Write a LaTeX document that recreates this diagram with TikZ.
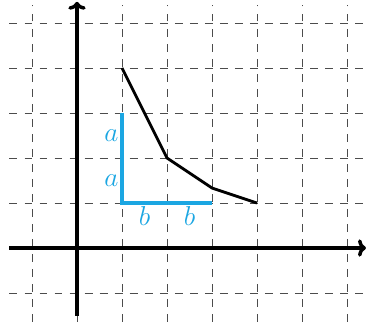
\documentclass[tikz,border=0pt]{standalone}
\usetikzlibrary{arrows.meta}
\definecolor{myblue}{RGB}{27,166,226}
\begin{document}
\begin{tikzpicture}[
  gridline/.style={black!70, line width=0.6pt, dash pattern=on 5pt off 4.5pt},
  axis/.style={line width=2.2pt, -{To[length=5pt,width=11pt]}},
  curve/.style={line width=1.8pt},
  leg/.style={myblue, line width=2pt},
  lab/.style={myblue, font=\fontsize{17}{20}\selectfont}
]
\useasboundingbox (-1.711,-1.644) rectangle (6.444,5.511);
\foreach \x in {-1,0,...,6} \draw[gridline] (\x,-1.644) -- (\x,5.4);
\foreach \y in {-1,0,...,5} \draw[gridline] (-1.5,\y) -- (6.444,\y);
\coordinate (xs) at (-1.5,0);
\coordinate (xe) at (6.42,0);
\coordinate (ys) at (0,-1.5);
\coordinate (ye) at (0,5.47);
\draw[axis] (xs) -- (xe);
\draw[axis] (ys) -- (ye);
\coordinate (p1) at (1,4);
\coordinate (p2) at (2,2);
\coordinate (p3) at (3,4/3);
\coordinate (p4) at (4,1);
\draw[curve] (p1) -- (p2) -- (p3) -- (p4);
\coordinate (top) at (1,3);
\coordinate (corner) at (1,1);
\coordinate (right) at (3,1);
\draw[leg] (top) -- (corner) -- (right);
\node[lab, left, inner sep=2pt] (a1) at (1,2.5) {$a$};
\node[lab, left, inner sep=2pt] (a2) at (1,1.5) {$a$};
\node[lab, below, inner sep=2pt] (b1) at (1.5,1) {$b$};
\node[lab, below, inner sep=2pt] (b2) at (2.5,1) {$b$};
\end{tikzpicture}
\end{document}
